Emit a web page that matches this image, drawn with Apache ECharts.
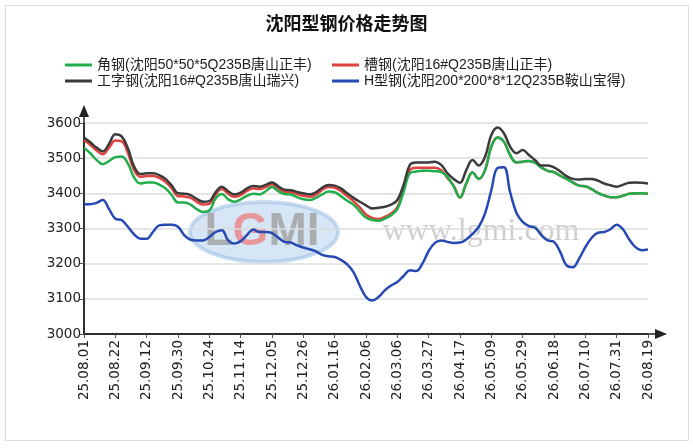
<!DOCTYPE html>
<html>
<head>
<meta charset="utf-8">
<title>沈阳型钢价格走势图</title>
<script src="https://cdn.jsdelivr.net/npm/echarts@6/dist/echarts.min.js"></script>
<style>
html,body{margin:0;padding:0;background:#fff;}
#main{width:693px;height:448px;}
.frame{position:absolute;left:5px;top:5px;width:682px;height:434px;border:1px solid #dcdcdc;pointer-events:none;}
</style>
</head>
<body>
<div id="main"></div>
<div class="frame"></div>
<script>
// 日期（每5个点显示一个刻度标签）
var dates = [
	'25.08.01','25.08.06','25.08.11','25.08.14','25.08.19',
	'25.08.22','25.08.27','25.09.01','25.09.04','25.09.09',
	'25.09.12','25.09.17','25.09.22','25.09.25','25.09.28',
	'25.09.30','25.10.10','25.10.14','25.10.17','25.10.21',
	'25.10.24','25.10.29','25.11.03','25.11.06','25.11.11',
	'25.11.14','25.11.19','25.11.24','25.11.27','25.12.02',
	'25.12.05','25.12.10','25.12.15','25.12.18','25.12.23',
	'25.12.26','25.12.31','26.01.05','26.01.08','26.01.13',
	'26.01.16','26.01.21','26.01.26','26.01.29','26.02.03',
	'26.02.06','26.02.11','26.02.25','26.02.28','26.03.03',
	'26.03.06','26.03.11','26.03.16','26.03.19','26.03.24',
	'26.03.27','26.04.01','26.04.06','26.04.09','26.04.14',
	'26.04.17','26.04.22','26.04.27','26.04.30','26.05.07',
	'26.05.09','26.05.14','26.05.19','26.05.22','26.05.27',
	'26.05.29','26.06.03','26.06.08','26.06.11','26.06.16',
	'26.06.18','26.06.24','26.06.29','26.07.02','26.07.07',
	'26.07.10','26.07.15','26.07.20','26.07.23','26.07.28',
	'26.07.31','26.08.05','26.08.10','26.08.13','26.08.17',
	'26.08.19'
];
var yTicks = {min: 3000, max: 3600, step: 100};

var nameJiao = '角钢(沈阳50*50*5Q235B唐山正丰)';
var nameCao = '槽钢(沈阳16#Q235B唐山正丰)';
var nameGong = '工字钢(沈阳16#Q235B唐山瑞兴)';
var nameH = 'H型钢(沈阳200*200*8*12Q235B鞍山宝得)';

// 角钢
var jiaoArr = [
	3530,3514,3495,3483,3492,3503,3505,3485,3445,3428,
	3431,3431,3425,3414,3395,3374,3374,3368,3355,3347,
	3351,3385,3398,3383,3376,3383,3393,3399,3397,3406,
	3418,3406,3398,3397,3389,3383,3381,3387,3397,3405,
	3403,3392,3379,3368,3349,3331,3324,3322,3328,3338,
	3355,3404,3457,3462,3464,3464,3463,3460,3447,3419,
	3388,3428,3459,3441,3466,3533,3559,3547,3509,3488,
	3490,3492,3487,3473,3464,3460,3450,3441,3431,3422,
	3420,3412,3401,3394,3389,3389,3393,3399,3400,3400,
	3399
];
// 槽钢
var caoArr = [
	3552,3538,3522,3511,3530,3550,3548,3515,3466,3447,
	3449,3449,3444,3433,3414,3392,3391,3387,3376,3368,
	3370,3396,3412,3399,3390,3395,3407,3414,3412,3418,
	3426,3414,3404,3403,3398,3393,3390,3396,3410,3418,
	3416,3407,3392,3378,3360,3340,3330,3327,3333,3343,
	3360,3414,3466,3473,3473,3473,3473,3466,3444,3421,
	3388,3428,3459,3441,3466,3533,3559,3547,3509,3488,
	3490,3492,3487,3473,3464,3460,3450,3441,3431,3422,
	3420,3412,3401,3394,3389,3389,3393,3399,3400,3400,
	3399
];
// 工字钢
var gongArr = [
	3559,3545,3530,3519,3541,3568,3562,3528,3476,3455,
	3457,3457,3452,3441,3422,3400,3399,3395,3384,3376,
	3378,3403,3419,3406,3397,3402,3414,3421,3419,3424,
	3431,3420,3410,3409,3404,3400,3397,3403,3416,3424,
	3422,3414,3400,3387,3376,3366,3357,3359,3362,3368,
	3381,3424,3481,3488,3488,3488,3490,3481,3457,3441,
	3430,3466,3495,3479,3504,3566,3587,3571,3533,3514,
	3523,3509,3494,3479,3479,3474,3462,3449,3441,3439,
	3441,3441,3436,3428,3423,3419,3424,3430,3431,3430,
	3428
];
// H型钢
var hArr = [
	3369,3369,3373,3381,3355,3328,3324,3305,3283,3271,
	3271,3290,3309,3311,3311,3305,3281,3268,3266,3266,
	3276,3290,3295,3266,3257,3264,3281,3297,3290,3290,
	3287,3274,3262,3260,3252,3246,3241,3235,3225,3221,
	3219,3211,3198,3176,3138,3105,3095,3105,3124,3138,
	3148,3165,3181,3179,3200,3236,3259,3266,3262,3259,
	3260,3269,3285,3305,3343,3409,3472,3474,3403,3345,
	3319,3307,3302,3281,3266,3262,3233,3195,3190,3214,
	3247,3273,3288,3290,3298,3311,3298,3269,3247,3238,
	3240
];

var colors = {jiao: '#1fae4b', cao: '#e0433f', gong: '#3b3b3b', h: '#2749b3'};
var fontCN = "'Liberation Sans','Noto Sans CJK SC',sans-serif";
var fontAxis = "'DejaVu Sans',sans-serif";
var axisColor = '#222';

function lineSeries(name, data, color) {
	return {
		name: name,
		type: 'line',
		data: data,
		smooth: 0.4,
		symbol: 'none',
		xAxisIndex: 0,
		yAxisIndex: 0,
		lineStyle: {color: color, width: 2.5},
		itemStyle: {color: color}
	};
}

// 只用来画带箭头的坐标轴线
var arrowAxis = {
	type: 'value', gridIndex: 1, min: 0, max: 1,
	axisLine: {show: true, symbol: ['none', 'triangle'], symbolSize: [10, 12], symbolOffset: [0, 6],
		lineStyle: {color: axisColor, width: 1.5}},
	axisTick: {show: false}, axisLabel: {show: false}, splitLine: {show: false}
};

var chart = echarts.init(document.getElementById('main'));
var legendText = {fontSize: 14, color: '#222', fontFamily: fontCN};
var option = {
	animation: false,
	backgroundColor: '#fff',
	title: {
		text: '沈阳型钢价格走势图', left: 'center', top: 11,
		textStyle: {fontSize: 18, fontWeight: 'bold', color: '#111', fontFamily: fontCN}
	},
	legend: [
		{orient: 'vertical', left: 60, top: 53, icon: 'rect', itemWidth: 27, itemHeight: 3, itemGap: 2,
			data: [nameJiao, nameGong], textStyle: legendText},
		{orient: 'vertical', left: 327, top: 53, icon: 'rect', itemWidth: 27, itemHeight: 3, itemGap: 2,
			data: [nameCao, nameH], textStyle: legendText}
	],
	grid: [
		{left: 84, right: 45, top: 123, bottom: 114},
		{left: 84, right: 38, top: 117, bottom: 114}
	],
	xAxis: [
		{
			type: 'category', gridIndex: 0, data: dates, boundaryGap: false,
			axisLine: {lineStyle: {color: axisColor, width: 1.5}},
			axisTick: {interval: 4, length: 4, lineStyle: {color: '#555'}},
			axisLabel: {interval: 4, rotate: 90, fontSize: 13.5, color: '#222', margin: 6, fontFamily: fontAxis},
			splitLine: {show: false}
		},
		arrowAxis
	],
	yAxis: [
		{
			type: 'value', gridIndex: 0, min: yTicks.min, max: yTicks.max, interval: yTicks.step,
			axisLine: {show: true, lineStyle: {color: axisColor, width: 1.5}},
			axisTick: {show: true, length: 4, lineStyle: {color: '#555'}},
			axisLabel: {fontSize: 13.5, color: '#222', margin: 3, fontFamily: fontAxis,
				formatter: function (v) { return String(v); }},
			splitLine: {lineStyle: {color: '#dddddd', width: 1.5}}
		},
		arrowAxis
	],
	graphic: [
		{type: 'ellipse', z: 0, shape: {cx: 264, cy: 232, rx: 74, ry: 30},
			style: {fill: 'rgba(175,205,238,0.5)', stroke: 'rgba(140,180,225,0.45)', lineWidth: 4}},
		{type: 'text', z: 0, style: {
			x: 262, y: 232, align: 'center', verticalAlign: 'middle',
			text: '{a|L}{b|G}{a|MI}',
			rich: {
				a: {fontSize: 46, fontWeight: 'bold', fill: 'rgba(160,160,160,0.8)', fontFamily: 'Liberation Sans'},
				b: {fontSize: 46, fontWeight: 'bold', fill: 'rgba(235,130,130,0.8)', fontFamily: 'Liberation Sans'}
			}
		}},
		{type: 'text', z: 0, style: {
			x: 481, y: 232, align: 'center', verticalAlign: 'middle',
			text: 'www.lgmi.com', font: '32px "Liberation Serif"', fill: 'rgba(175,175,175,0.6)'
		}}
	],
	series: [
		lineSeries(nameCao, caoArr, colors.cao),
		lineSeries(nameJiao, jiaoArr, colors.jiao),
		lineSeries(nameGong, gongArr, colors.gong),
		lineSeries(nameH, hArr, colors.h)
	]
};
chart.setOption(option);
</script>
</body>
</html>
